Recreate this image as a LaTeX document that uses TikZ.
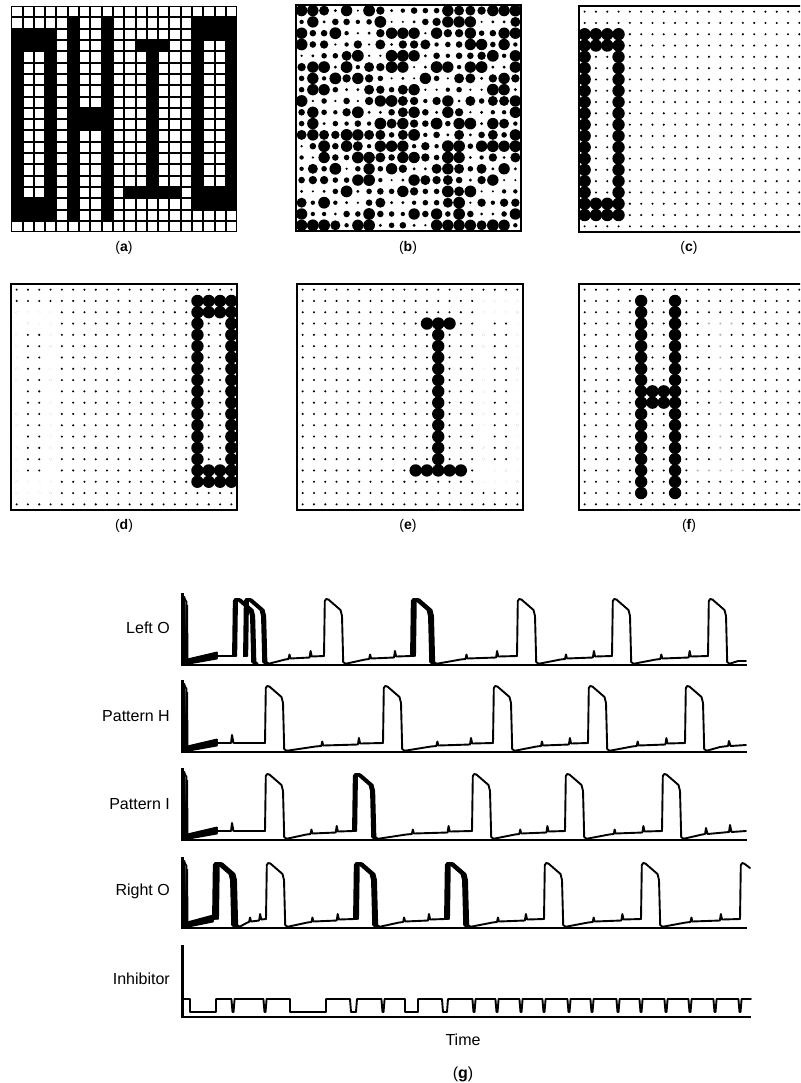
\documentclass[tikz,border=0pt]{standalone}
\usepackage{fontspec}
\setmainfont{Liberation Sans}
% black block in panel (a): c1 r1 c2 r2
\newcommand\blk[4]{\fill[black] ({\ax+1+#1*11.3},{\ay+1+#2*11.3}) rectangle ({\ax+1.6+#3*11.3+9},{\ay+1.6+#4*11.3+9});}
% dots on a block of cells: style x0 y0 c1 r1 c2 r2 radius
\newcommand\dotblk[8]{\foreach \pc in {#4,...,#6}{\foreach \pr in {#5,...,#7}{\fill[#1] ({#2+5.65+\pc*11.3},{#3+5.65+\pr*11.3}) circle[radius=#8];}}}
\newcommand\dotgrid[2]{\dotblk{black}{#1}{#2}{0}{0}{19}{19}{1.15}}
% letter shapes as dot blocks: style x0 y0 radius
\newcommand\leftO[4]{\dotblk{#1}{#2}{#3}{0}{2}{3}{3}{#4}\dotblk{#1}{#2}{#3}{0}{17}{3}{18}{#4}\dotblk{#1}{#2}{#3}{0}{4}{0}{16}{#4}\dotblk{#1}{#2}{#3}{3}{4}{3}{16}{#4}}
\newcommand\rightO[4]{\dotblk{#1}{#2}{#3}{16}{1}{19}{2}{#4}\dotblk{#1}{#2}{#3}{16}{16}{19}{17}{#4}\dotblk{#1}{#2}{#3}{16}{3}{16}{15}{#4}\dotblk{#1}{#2}{#3}{19}{3}{19}{15}{#4}}
\newcommand\letterI[4]{\dotblk{#1}{#2}{#3}{11}{3}{13}{3}{#4}\dotblk{#1}{#2}{#3}{12}{4}{12}{15}{#4}\dotblk{#1}{#2}{#3}{10}{16}{14}{16}{#4}}
\newcommand\letterH[4]{\dotblk{#1}{#2}{#3}{5}{1}{5}{18}{#4}\dotblk{#1}{#2}{#3}{8}{1}{8}{18}{#4}\dotblk{#1}{#2}{#3}{6}{9}{7}{10}{#4}}
% traces: pulse at rise x, baseline B, top T
\newcommand\pulse[3]{\draw[trace] ({#1},{#2-9}) -- ({#1+0.8},{#3+8}) -- ({#1+2.2},{#3+6}) -- ({#1+4.5},{#3+6.6}) -- ({#1+16.5},{#3+17}) -- ({#1+18},{#3+23}) -- ({#1+19.2},{#2-3}) -- ({#1+21.5},{#2-1.2});}
\newcommand\thickp[4]{\foreach \po in {#4}{\draw[trace] ({#1},{#2-9}) -- ({#1+\po},{#2-9-0.4*\po});\pulse{#1+\po}{#2}{#3}}}
\newcommand\ramp[3]{\pgfmathsetmacro\rL{#2-#1}\draw[trace] ({#1},{#3-1.2}) -- ({#1+0.3*\rL},{#3-5.5}) -- ({#1+0.36*\rL},{#3-6}) -- ({#1+0.36*\rL+1},{#3-10.5}) -- ({#1+0.36*\rL+2},{#3-6.5}) -- ({#1+0.74*\rL},{#3-7.5}) -- ({#1+0.74*\rL+1},{#3-14}) -- ({#1+0.74*\rL+2.2},{#3-8.5}) -- ({#2},{#3-9});}
\newcommand\initrow[3]{\draw[trace] (183,{#2+3}) -- (186.5,{#2+9}) -- (187,{#1-2});
 \draw[trace] (184.5,{#2+4}) -- (185,{#1-1});
 \fill (184,{#1-1}) -- (186,{#2+12}) -- (188,{#2+12}) -- (188.5,{#1-3}) -- cycle;
 \foreach \k in {0,1,2,3,4,5,6}{\draw[trace] (186,{#1-1-0.7*\k}) -- (#3,{#1-6.5-1*\k});}
 \draw[axisline] (182.5,#2) -- (182.5,#1) -- (747,#1);}
\newcommand\notch[1]{-- ({#1-1.6},999) -- ({#1-0.5},1012) -- ({#1+0.5},1012) -- ({#1+1.6},999)}
\begin{document}
\begin{tikzpicture}[x=1pt,y=-1pt,
  trace/.style={line width=1.9pt,line join=round,line cap=round},
  axisline/.style={line width=2.2pt},
  panelframe/.style={line width=1.4pt},
  lab/.style={font=\fontsize{16}{18}\selectfont,inner sep=0pt},
  plab/.style={font=\fontsize{14}{16}\selectfont,inner sep=0pt}]
\useasboundingbox (0,0) rectangle (800,1083);
\clip (0,0) rectangle (800,1083);
% ---------- panel (a)
\def\ax{11}\def\ay{6}
\fill[black] (\ax,\ay) rectangle ++(226,226);
\foreach \pc in {0,...,19}{\foreach \pr in {0,...,19}{\fill[white] ({\ax+1.2+\pc*11.3},{\ay+1.2+\pr*11.3}) rectangle ++(9.3,9.3);}}
\blk{0}{2}{3}{3}\blk{0}{17}{3}{18}\blk{0}{4}{0}{16}\blk{3}{4}{3}{16}
\blk{5}{1}{5}{18}\blk{8}{1}{8}{18}\blk{6}{9}{7}{10}
\blk{11}{3}{13}{3}\blk{12}{3}{12}{16}\blk{10}{16}{14}{16}
\blk{16}{1}{19}{2}\blk{16}{16}{19}{17}\blk{16}{3}{16}{15}\blk{19}{3}{19}{15}
\node[plab] (la) at (124,248) {(\textbf{a})};
% ---------- panel (b)
\pgfmathsetseed{7}
\foreach \pc in {0,...,19}{\foreach \pr in {0,...,19}{%
  \pgfmathrandominteger{\rk}{0}{9}%
  \pgfmathsetmacro\rad{{1.2,1.6,2.2,2.8,3.3,4.2,5.0,5.7,5.7,5.9}[\rk]}%
  \fill ({296+5.6+\pc*11.25},{5+5.6+\pr*11.3}) circle[radius=\rad];}}
\draw[line width=1.8pt] (296,5) rectangle (521,231);
\node[plab] (lb) at (408,248) {(\textbf{b})};
% ---------- panel (c)
\dotgrid{579}{6}
\leftO{black}{579}{6}{6.2}
\draw[panelframe] (579,6) rectangle ++(226,226);
\node[plab] (lc) at (689,248) {(\textbf{c})};
% ---------- panel (d)
\dotgrid{11}{284}
\leftO{white}{11}{284}{1.6}
\rightO{black}{11}{284}{6.2}
\draw[panelframe] (11,284) rectangle ++(226,226);
\node[plab] (ld) at (124,526) {(\textbf{d})};
% ---------- panel (e)
\dotgrid{297}{284}
\rightO{white}{297}{284}{1.6}
\letterI{black}{297}{284}{6.2}
\draw[panelframe] (297,284) rectangle ++(226,226);
\node[plab] (le) at (408,526) {(\textbf{e})};
% ---------- panel (f)
\dotgrid{579}{284}
\letterI{white}{579}{284}{1.6}
\letterI{black!35}{579}{284}{0.9}
\letterH{black}{579}{284}{6.2}
\draw[panelframe] (579,284) rectangle ++(226,226);
\node[plab] (lf) at (689,526) {(\textbf{f})};
% ---------- panel (g): Left O
\initrow{665}{593}{217}
\draw[trace] (217,656) -- (233,656);
\thickp{233}{665}{593}{0,0.8,1.6,2.4,3.2}
\thickp{244}{665}{593}{0,0.8,1.6,2.4,3.2}
\ramp{268.5}{324}{665}\pulse{324}{665}{593}
\ramp{345.5}{411}{665}\thickp{411}{665}{593}{0,0.8,1.6,2.4,3.2,4}
\ramp{436.5}{517}{665}\pulse{517}{665}{593}
\ramp{538.5}{612}{665}\pulse{612}{665}{593}
\ramp{633.5}{708}{665}\pulse{708}{665}{593}
\draw[trace] (729.5,663.8) -- (738,661) -- (746,661);
% Pattern H
\initrow{752}{680}{217}
\draw[trace] (217,743) -- (231,743) -- (232,735) -- (233.5,743) -- (265,743);
\pulse{265}{752}{680}
\ramp{286.5}{383}{752}\pulse{383}{752}{680}
\ramp{404.5}{493}{752}\pulse{493}{752}{680}
\ramp{514.5}{588}{752}\pulse{588}{752}{680}
\ramp{609.5}{685}{752}\pulse{685}{752}{680}
\draw[trace] (706.5,750.8) -- (720,747) -- (728,746) -- (729,741) -- (730.5,746) -- (746,745);
% Pattern I
\initrow{840}{768}{217}
\draw[trace] (217,831) -- (231,831) -- (232,823) -- (233.5,831) -- (265,831);
\pulse{265}{840}{768}
\ramp{286.5}{353}{840}\thickp{353}{840}{768}{0,0.8,1.6,2.4,3.2}
\ramp{378}{472}{840}\pulse{472}{840}{768}
\ramp{493.5}{565}{840}\pulse{565}{840}{768}
\ramp{586.5}{662}{840}\pulse{662}{840}{768}
\draw[trace] (683.5,838.8) -- (700,835) -- (705,834) -- (706,828) -- (707.5,834) -- (729,832) -- (730,825) -- (731.5,832) -- (746,831);
% Right O
\initrow{928}{857}{213}
\thickp{213}{928}{857}{0,1,2,3,4,5}
\ramp{239.5}{266}{928}\pulse{266}{928}{857}
\ramp{287.5}{354}{928}\thickp{354}{928}{857}{0,0.8,1.6,2.4,3.2,4}
\ramp{379.5}{445}{928}\thickp{445}{928}{857}{0,0.8,1.6,2.4,3.2,4}
\ramp{470.5}{544}{928}\pulse{544}{928}{857}
\ramp{565.5}{641}{928}\pulse{641}{928}{857}
\ramp{662.5}{740}{928}
\draw[trace] (740,919) -- (740.8,865) -- (742.3,863) -- (744.5,863.8) -- (750,868);
% Inhibitor
\draw[axisline] (182.5,945) -- (182.5,1017) -- (751,1017);
\draw[trace] (183,999) -- (190,999) -- (190,1012) -- (216,1012) -- (216,999)
  \notch{233} \notch{265} -- (290,999) -- (290,1012) -- (326,1012) -- (326,999)
  -- (350,999) -- (351,1012) -- (356,1012) -- (357,999) \notch{383}
  -- (405,999) -- (405,1012) -- (418,1012) -- (418,999)
  -- (442,999) -- (443,1012) -- (447,1012) -- (448,999)
  \notch{474} \notch{497} \notch{521} \notch{544} \notch{569} \notch{592}
  \notch{618} \notch{641} \notch{666} \notch{690} \notch{715} \notch{740} -- (751,999);
% labels
\node[lab,anchor=east] (tlo) at (170,628) {Left O};
\node[lab,anchor=east] (tph) at (170,716) {Pattern H};
\node[lab,anchor=east] (tpi) at (170,804) {Pattern I};
\node[lab,anchor=east] (tro) at (170,891) {Right O};
\node[lab,anchor=east] (tin) at (170,979) {Inhibitor};
\node[lab] (time) at (463,1040) {Time};
\node[lab] (lg) at (463,1074) {(\textbf{g})};
\end{tikzpicture}
\end{document}
